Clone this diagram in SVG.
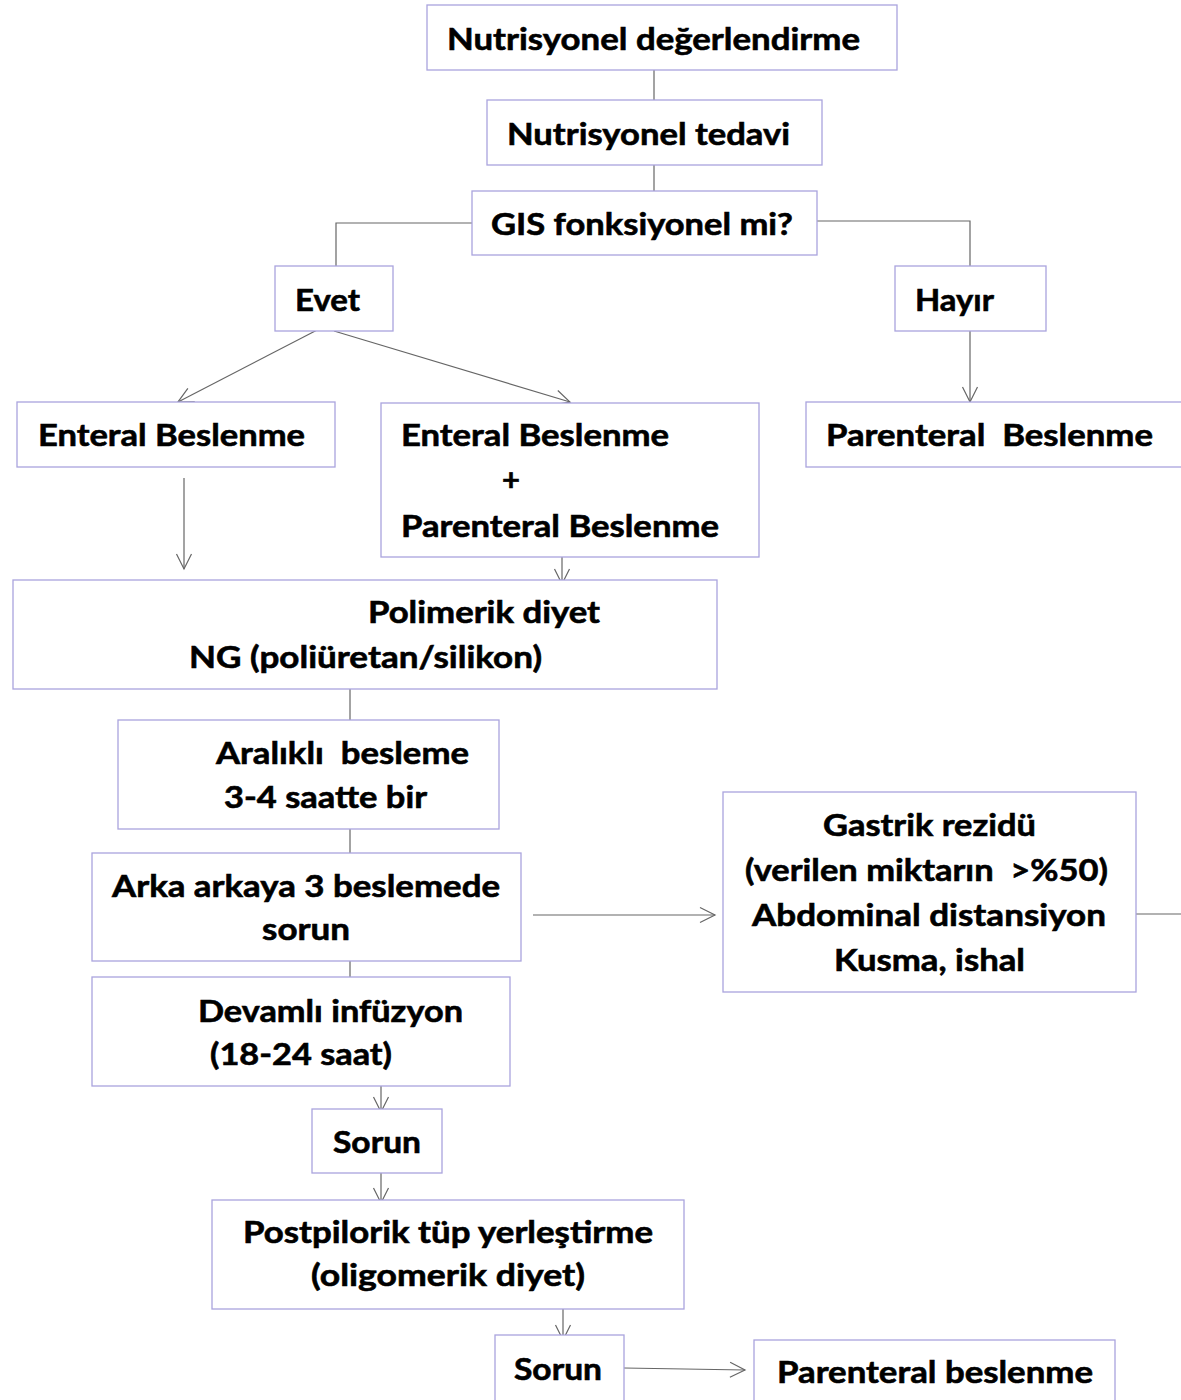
<svg xmlns="http://www.w3.org/2000/svg" width="1181" height="1400" viewBox="0 0 1181 1400">
<style>
.box{fill:#fff;stroke:#aaa4dd;stroke-width:1.3}
.t{font-family:Lato,"Open Sans","Liberation Sans",sans-serif;font-weight:bold;font-size:31px;fill:#000;stroke:#000;stroke-width:0.6;white-space:pre}
.c{fill:none;stroke:#666;stroke-width:1.2}
</style>
<defs>
<marker id="ah" markerWidth="18" markerHeight="18" refX="16" refY="9" orient="auto" markerUnits="userSpaceOnUse" viewBox="0 0 18 18">
<path d="M1,1.5 L16,9 L1,16.5" fill="none" stroke="#666" stroke-width="1.2"/>
</marker>
</defs>
<rect width="1181" height="1400" fill="#fff"/>
<g id="connectors">
<path class="c" d="M654,70 V100"/>
<path class="c" d="M654,165 V191"/>
<path class="c" d="M472,223 H336 V266"/>
<path class="c" d="M817,221 H970 V266"/>
<path class="c" d="M321,328 L178,402" marker-end="url(#ah)"/>
<path class="c" d="M334,331 L570,402" marker-end="url(#ah)"/>
<path class="c" d="M970,331 V402" marker-end="url(#ah)"/>
<path class="c" d="M184,478 V569" marker-end="url(#ah)"/>
<path class="c" d="M562,555 V584" marker-end="url(#ah)"/>
<path class="c" d="M350,689 V720"/>
<path class="c" d="M350,826 V855"/>
<path class="c" d="M350,961 V992"/>
<path class="c" d="M381,1083 V1112" marker-end="url(#ah)"/>
<path class="c" d="M381,1173 V1203" marker-end="url(#ah)"/>
<path class="c" d="M563,1309 V1340" marker-end="url(#ah)"/>
<path class="c" d="M624,1368 L745,1370" marker-end="url(#ah)"/>
<path class="c" d="M533,915 H715" marker-end="url(#ah)"/>
<path class="c" d="M1136,914 H1181"/>
</g>
<g id="n1"><rect class="box" x="427" y="5" width="470" height="65"/><text class="t" x="447" y="50" textLength="413" lengthAdjust="spacingAndGlyphs">Nutrisyonel değerlendirme</text></g>
<g id="n2"><rect class="box" x="487" y="100" width="335" height="65"/><text class="t" x="507" y="145" textLength="283" lengthAdjust="spacingAndGlyphs">Nutrisyonel tedavi</text></g>
<g id="n3"><rect class="box" x="472" y="191" width="345" height="64"/><text class="t" x="491" y="235" textLength="302" lengthAdjust="spacingAndGlyphs">GIS fonksiyonel mi?</text></g>
<g id="n4"><rect class="box" x="275" y="266" width="118" height="65"/><text class="t" x="295" y="311" textLength="65" lengthAdjust="spacingAndGlyphs">Evet</text></g>
<g id="n5"><rect class="box" x="895" y="266" width="151" height="65"/><text class="t" x="915" y="311" textLength="79" lengthAdjust="spacingAndGlyphs">Hayır</text></g>
<g id="n6"><rect class="box" x="17" y="402" width="318" height="65"/><text class="t" x="38" y="446" textLength="267" lengthAdjust="spacingAndGlyphs">Enteral Beslenme</text></g>
<g id="n7"><rect class="box" x="381" y="403" width="378" height="154"/>
<text class="t" x="401" y="446" textLength="268" lengthAdjust="spacingAndGlyphs">Enteral Beslenme</text>
<text class="t" x="502" y="491">+</text>
<text class="t" x="401" y="537" textLength="318" lengthAdjust="spacingAndGlyphs">Parenteral Beslenme</text></g>
<g id="n8"><rect class="box" x="806" y="402" width="390" height="65"/><text class="t" x="826" y="446" textLength="327" lengthAdjust="spacingAndGlyphs">Parenteral  Beslenme</text></g>
<g id="n9"><rect class="box" x="13" y="580" width="704" height="109"/>
<text class="t" x="368" y="623" textLength="232" lengthAdjust="spacingAndGlyphs">Polimerik diyet</text>
<text class="t" x="189" y="668" textLength="353" lengthAdjust="spacingAndGlyphs">NG (poliüretan/silikon)</text></g>
<g id="n10"><rect class="box" x="118" y="720" width="381" height="109"/>
<text class="t" x="216" y="764" textLength="253" lengthAdjust="spacingAndGlyphs">Aralıklı  besleme</text>
<text class="t" x="224" y="808" textLength="203" lengthAdjust="spacingAndGlyphs">3-4 saatte bir</text></g>
<g id="n11"><rect class="box" x="92" y="853" width="429" height="108"/>
<text class="t" x="112" y="897" textLength="388" lengthAdjust="spacingAndGlyphs">Arka arkaya 3 beslemede</text>
<text class="t" x="262" y="940" textLength="88" lengthAdjust="spacingAndGlyphs">sorun</text></g>
<g id="n12"><rect class="box" x="723" y="792" width="413" height="200"/>
<text class="t" x="823" y="836" textLength="213" lengthAdjust="spacingAndGlyphs">Gastrik rezidü</text>
<text class="t" x="745" y="881" textLength="363" lengthAdjust="spacingAndGlyphs">(verilen miktarın  &gt;%50)</text>
<text class="t" x="752" y="926" textLength="354" lengthAdjust="spacingAndGlyphs">Abdominal distansiyon</text>
<text class="t" x="834" y="971" textLength="191" lengthAdjust="spacingAndGlyphs">Kusma, ishal</text></g>
<g id="n13"><rect class="box" x="92" y="977" width="418" height="109"/>
<text class="t" x="198" y="1022" textLength="265" lengthAdjust="spacingAndGlyphs">Devamlı infüzyon</text>
<text class="t" x="210" y="1065" textLength="182" lengthAdjust="spacingAndGlyphs">(18-24 saat)</text></g>
<g id="n14"><rect class="box" x="312" y="1109" width="130" height="64"/><text class="t" x="333" y="1153" textLength="88" lengthAdjust="spacingAndGlyphs">Sorun</text></g>
<g id="n15"><rect class="box" x="212" y="1200" width="472" height="109"/>
<text class="t" x="243" y="1243" textLength="410" lengthAdjust="spacingAndGlyphs">Postpilorik tüp yerleştirme</text>
<text class="t" x="311" y="1286" textLength="274" lengthAdjust="spacingAndGlyphs">(oligomerik diyet)</text></g>
<g id="n16"><rect class="box" x="495" y="1335" width="129" height="70"/><text class="t" x="514" y="1380" textLength="88" lengthAdjust="spacingAndGlyphs">Sorun</text></g>
<g id="n17"><rect class="box" x="754" y="1340" width="361" height="70"/><text class="t" x="777" y="1383" textLength="316" lengthAdjust="spacingAndGlyphs">Parenteral beslenme</text></g>
</svg>
